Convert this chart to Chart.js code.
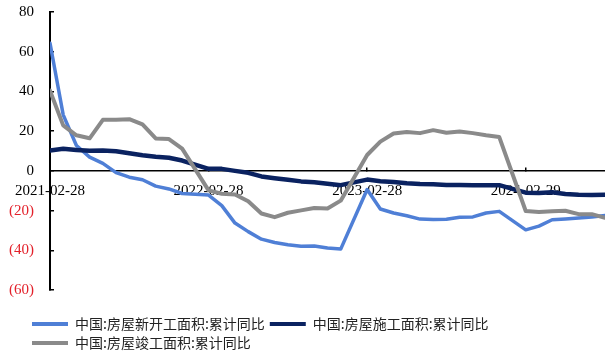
<!DOCTYPE html>
<html>
<head>
<meta charset="utf-8">
<script src="https://cdn.jsdelivr.net/npm/chart.js@4.4.1/dist/chart.umd.min.js"></script>
<style>
  html, body { margin: 0; padding: 0; background: #fff; }
  canvas { display: block; }
</style>
</head>
<body>
<canvas id="chart" width="605" height="360"></canvas>
<script>
// Month-end reporting dates (January is merged into February)
const dates = [
  '2021-02-28','2021-03-31','2021-04-30','2021-05-31','2021-06-30','2021-07-31','2021-08-31','2021-09-30','2021-10-31','2021-11-30','2021-12-31',
  '2022-02-28','2022-03-31','2022-04-30','2022-05-31','2022-06-30','2022-07-31','2022-08-31','2022-09-30','2022-10-31','2022-11-30','2022-12-31',
  '2023-02-28','2023-03-31','2023-04-30','2023-05-31','2023-06-30','2023-07-31','2023-08-31','2023-09-30','2023-10-31','2023-11-30','2023-12-31',
  '2024-02-29','2024-03-31','2024-04-30','2024-05-31','2024-06-30','2024-07-31','2024-08-31'
];

// Cumulative year-on-year change, %
const newStartsYoY = [
  64.3, 28.2, 12.8, 6.9, 3.8, -0.9, -3.2, -4.5, -7.7, -9.1, -11.4,
  -12.2, -17.5, -26.3, -30.6, -34.4, -36.1, -37.2, -38.0, -37.8, -38.9, -39.4,
  -9.4, -19.2, -21.2, -22.6, -24.3, -24.5, -24.4, -23.4, -23.2, -21.2, -20.4,
  -29.7, -27.8, -24.6, -24.2, -23.7, -23.2, -22.5
];
const underConstructionYoY = [
  10.3, 11.1, 10.5, 10.1, 10.2, 9.9, 8.9, 7.9, 7.1, 6.6, 5.2,
  1.0, 1.0, 0.0, -1.0, -2.8, -3.7, -4.5, -5.3, -5.7, -6.5, -7.2,
  -4.4, -5.2, -5.6, -6.2, -6.6, -6.8, -7.1, -7.1, -7.3, -7.2, -7.2,
  -11.0, -11.1, -10.8, -11.6, -12.0, -12.1, -12.0
];
const completedYoY = [
  40.4, 22.9, 17.9, 16.4, 25.7, 25.7, 26.0, 23.4, 16.3, 16.0, 11.2,
  -9.8, -11.5, -11.9, -15.3, -21.5, -23.3, -21.1, -19.9, -18.7, -19.0, -15.0,
  8.0, 14.7, 18.8, 19.6, 19.0, 20.5, 19.2, 19.8, 19.0, 17.9, 17.0,
  -20.2, -20.7, -20.4, -20.1, -21.8, -21.8, -23.6
];

const seriesNames = [
  '中国:房屋新开工面积:累计同比',
  '中国:房屋施工面积:累计同比',
  '中国:房屋竣工面积:累计同比'
];
const xTickLabels = ['2021-02-28', '2022-02-28', '2023-02-28', '2024-02-29'];

// Position on the x axis = months elapsed since the first date
const monthIndex = s => {
  const [y, m] = s.split('-').map(Number);
  return (y - 2021) * 12 + (m - 2);
};
const toPoints = vals => vals.map((v, i) => ({ x: monthIndex(dates[i]), y: v }));
const xTickPositions = xTickLabels.map(monthIndex);
const lastX = monthIndex(dates[dates.length - 1]);

const BLUE = '#4f7fd6';
const NAVY = '#0a2260';
const GREY = '#8a8a8a';
const RED = '#e3202a';
const SERIF = '"Liberation Serif", "Times New Roman", serif';

// Moves the legend down into the reserved bottom band and indents it
const legendOffset = {
  id: 'legendOffset',
  afterLayout(chart) {
    const lg = chart.legend;
    if (!lg) return;
    lg.top += 22;
    lg.bottom += 22;
    lg.left += 27;
  }
};

const lineStyle = { pointRadius: 0, tension: 0, borderJoinStyle: 'round', borderCapStyle: 'round' };

new Chart(document.getElementById('chart'), {
  type: 'line',
  data: {
    datasets: [
      { label: seriesNames[0], data: toPoints(newStartsYoY), borderColor: BLUE, backgroundColor: BLUE, borderWidth: 3.5, order: 2, ...lineStyle },
      { label: seriesNames[1], data: toPoints(underConstructionYoY), borderColor: NAVY, backgroundColor: NAVY, borderWidth: 4.5, order: 1, ...lineStyle },
      { label: seriesNames[2], data: toPoints(completedYoY), borderColor: GREY, backgroundColor: GREY, borderWidth: 4, order: 0, ...lineStyle }
    ]
  },
  options: {
    responsive: false,
    devicePixelRatio: 1,
    animation: false,
    events: [],
    layout: { padding: { top: 12, right: 0, bottom: 22, left: 0 } },
    scales: {
      x: {
        type: 'linear',
        position: { y: 0 },
        min: 0,
        max: lastX,
        border: { display: true, color: '#000', width: 1.5 },
        grid: { drawOnChartArea: false, drawTicks: true, tickLength: -4, color: '#000', lineWidth: 1.5 },
        afterBuildTicks: s => { s.ticks = xTickPositions.map(v => ({ value: v })); },
        ticks: {
          autoSkip: false,
          maxRotation: 0,
          padding: 15,
          color: '#000',
          font: { family: SERIF, size: 15 },
          callback: v => {
            const k = xTickPositions.indexOf(v);
            return k >= 0 ? xTickLabels[k] : '';
          }
        }
      },
      y: {
        min: -60,
        max: 80,
        border: { display: true, color: '#000', width: 2 },
        grid: { drawOnChartArea: false, drawTicks: true, tickLength: -4, color: '#000', lineWidth: 1.5 },
        afterFit: s => {
          s.width = 49;
          // only half a label is needed above and below the axis
          s.paddingTop = 9;
          s.paddingBottom = 9;
        },
        ticks: {
          stepSize: 20,
          padding: 20,
          font: { family: SERIF, size: 15 },
          color: c => (c.tick && c.tick.value < 0 ? RED : '#000'),
          callback: v => (v < 0 ? '(' + (-v) + ')' : String(v))
        }
      }
    },
    plugins: {
      tooltip: { enabled: false },
      legend: {
        position: 'bottom',
        align: 'start',
        labels: {
          boxWidth: 36,
          boxHeight: 4,
          padding: 5,
          color: '#222',
          font: { family: '"Noto Sans CJK SC", sans-serif', size: 14 },
          sort: (a, b) => a.datasetIndex - b.datasetIndex,
          generateLabels(chart) {
            const items = Chart.defaults.plugins.legend.labels.generateLabels(chart);
            items.forEach(it => { it.fillStyle = it.strokeStyle; it.lineWidth = 0; });
            return items;
          }
        }
      }
    }
  },
  plugins: [legendOffset]
});
</script>
</body>
</html>
